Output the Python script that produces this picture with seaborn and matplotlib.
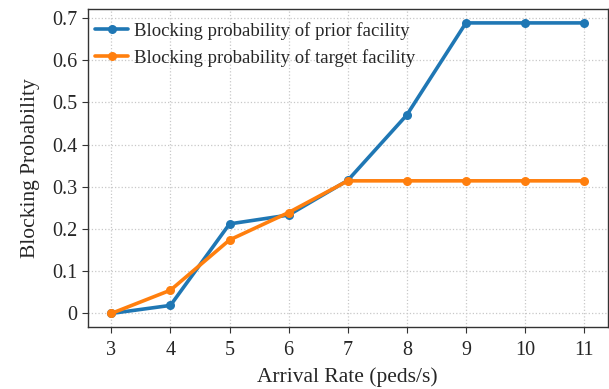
import matplotlib
matplotlib.use("Agg")
import matplotlib.pyplot as plt
import seaborn as sns
import pandas as pd

arrival_rate = [3, 4, 5, 6, 7, 8, 9, 10, 11]
prior_blocking = [0.0, 0.019, 0.212, 0.233, 0.315, 0.470, 0.688, 0.688, 0.688]
target_blocking = [0.0, 0.055, 0.174, 0.239, 0.314, 0.314, 0.314, 0.314, 0.314]
series_names = ["Blocking probability of prior facility",
                "Blocking probability of target facility"]
colors = ["#1f77b4", "#ff7f0e"]

df = pd.DataFrame({
    "x": arrival_rate * 2,
    "y": prior_blocking + target_blocking,
    "series": [series_names[0]] * len(arrival_rate) + [series_names[1]] * len(arrival_rate),
})

sns.set_style("ticks")
plt.rcParams["font.family"] = ["Liberation Serif", "DejaVu Serif"]

fig, ax = plt.subplots(figsize=(6.09, 3.89), dpi=100)
sns.lineplot(data=df, x="x", y="y", hue="series", palette=colors, marker="o",
             markersize=6.5, markeredgewidth=0, linewidth=2.6, ax=ax)

ax.set_xticks(arrival_rate)
ax.set_yticks([0, 0.1, 0.2, 0.3, 0.4, 0.5, 0.6, 0.7])
ax.set_yticklabels(["0", "0.1", "0.2", "0.3", "0.4", "0.5", "0.6", "0.7"])
ax.tick_params(axis="both", labelsize=14.5, direction="out", length=4, color="#333333")
ax.tick_params(axis="x", pad=6)
ax.set_xlabel("Arrival Rate (peds/s)", fontsize=15.5, labelpad=5)
ax.set_ylabel("Blocking Probability", fontsize=15.5, labelpad=9)
ax.grid(True, linestyle=":", color="#c8c8c8", linewidth=0.9)
for s in ax.spines.values():
    s.set_color("#333333")
    s.set_linewidth(1.0)
leg = ax.legend(loc="upper left", bbox_to_anchor=(0, 0.982), frameon=False,
                fontsize=13.5, handlelength=1.75, borderaxespad=0.0,
                labelspacing=0.5, handletextpad=0.3, borderpad=0.4)
ax.set_xlim(2.6, 11.4)
ax.set_ylim(-0.0325, 0.722)
fig.subplots_adjust(left=0.144, right=0.998, top=0.978, bottom=0.159)
fig.savefig("out.png", dpi=100)
